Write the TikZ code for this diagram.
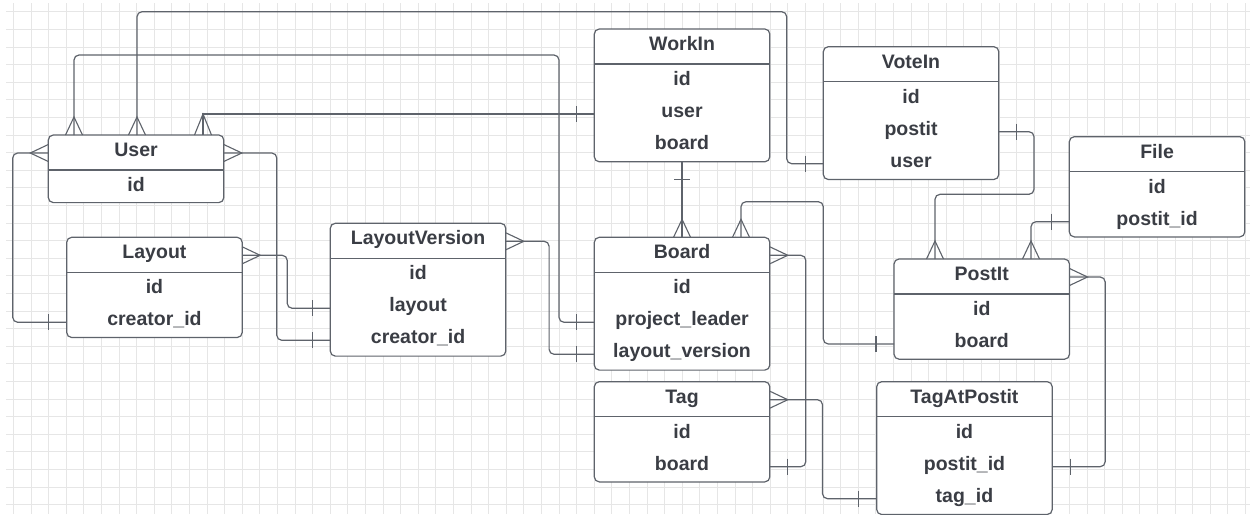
\documentclass[tikz,border=0pt]{standalone}
\usepackage{fontspec}
\setmainfont{Liberation Sans}
\usetikzlibrary{calc}
\definecolor{gridc}{HTML}{E6E6E6}
\definecolor{linec}{HTML}{5E636B}
\definecolor{txtc}{HTML}{3A3D44}
\tikzset{
  ebox/.style={draw=linec, line width=1.2pt, fill=white, rounded corners=5pt, minimum width=175.5pt, anchor=north west, inner sep=0pt, outer sep=0pt},
  ediv/.style={draw=linec, line width=1.2pt},
  etxt/.style={text=txtc, font=\bfseries\fontsize{19.5}{20}\selectfont, anchor=base, inner sep=0pt},
  conn/.style={draw=linec, line width=1.2pt, rounded corners=5pt},
  cmark/.style={draw=linec, line width=1.1pt, sharp corners},
  gridline/.style={draw=gridc, line width=0.8pt}
}
\newcommand\entity[6]{%
  \node[ebox, minimum height={35pt+#4*32.6pt}] (#1) at (#2,#3) {};
  \draw[ediv] ($(#1.north west)+(0,35)$) -- ($(#1.north east)+(0,35)$);
  \coordinate (#1-t) at ($(#1.north)+(0,18)$);
  \node[etxt] (#1-tt) at ($(#1-t)+(0,3.5)$) {#5};
  \foreach \ekey/\etext [count=\ei] in {#6} {
    \coordinate (#1-\ekey) at ($(#1.north)+(0,35+18+32*\ei-32)$);
    \node[etxt] (#1-\ekey-tx) at ($(#1-\ekey)+(0,3.5)$) {\etext};
  }
}
\newcommand\crowN[1]{\draw[cmark] ($(#1)+(-8.5,0)$) -- ($(#1)+(0,-18)$) -- ($(#1)+(8.5,0)$);}
\newcommand\crowE[1]{\draw[cmark] ($(#1)+(0,-8.5)$) -- ($(#1)+(18,0)$) -- ($(#1)+(0,8.5)$);}
\newcommand\crowW[1]{\draw[cmark] ($(#1)+(0,-8.5)$) -- ($(#1)+(-18,0)$) -- ($(#1)+(0,8.5)$);}
\newcommand\barW[1]{\draw[cmark] ($(#1)+(-18,-8)$) -- ($(#1)+(-18,8)$);}
\newcommand\barE[1]{\draw[cmark] ($(#1)+(18,-8)$) -- ($(#1)+(18,8)$);}
\newcommand\barS[1]{\draw[cmark] ($(#1)+(-8,18)$) -- ($(#1)+(8,18)$);}
\begin{document}
\begin{tikzpicture}[x=1pt, y=-1pt]
\useasboundingbox[fill=white] (0,0) rectangle (1250,514);
% grid
\foreach \gx in {0,...,70} \draw[gridline] (13.3+17.6*\gx,3) -- (13.3+17.6*\gx,514);
\foreach \gy in {0,...,28} \draw[gridline] (6,11.7+17.6*\gy) -- (1250,11.7+17.6*\gy);
% entities
\entity{User}{48.3}{135}{1}{User}{id/id}
\entity{Layout}{66.7}{237.3}{2}{Layout}{id/id,cr/creator\_id}
\entity{LV}{330.3}{223.3}{3}{LayoutVersion}{id/id,ly/layout,cr/creator\_id}
\entity{WorkIn}{594.3}{29}{3}{WorkIn}{id/id,us/user,bd/board}
\entity{VoteIn}{823.3}{46.7}{3}{VoteIn}{id/id,pi/postit,us/user}
\entity{File}{1069.3}{136.7}{2}{File}{id/id,pi/postit\_id}
\entity{Board}{594.3}{237.3}{3}{Board}{id/id,pl/project\_leader,lv/layout\_version}
\entity{Tag}{594.3}{381.7}{2}{Tag}{id/id,bd/board}
\entity{PostIt}{894}{259}{2}{PostIt}{id/id,bd/board}
\entity{TAP}{876.7}{381.7}{3}{TagAtPostit}{id/id,pi/postit\_id,tg/tag\_id}
% connector end points
\coordinate (a1) at (User-t -| User.west);
\coordinate (b1) at (Layout-cr -| Layout.west);
\coordinate (a2) at (User-t -| User.east);
\coordinate (b2) at (LV-cr -| LV.west);
\coordinate (a3) at (Layout-t -| Layout.east);
\coordinate (b3) at (LV-ly -| LV.west);
\coordinate (a4) at (LV-t -| LV.east);
\coordinate (b4) at (Board-lv -| Board.west);
\coordinate (a5) at ($(User.north west)+(25.7,0)$);
\coordinate (b5) at (Board-pl -| Board.west);
\coordinate (a6) at ($(User.north west)+(88.7,0)$);
\coordinate (b6) at (VoteIn-us -| VoteIn.west);
\coordinate (a7) at ($(User.north west)+(154.7,0)$);
\coordinate (b7) at (WorkIn-us -| WorkIn.west);
\coordinate (a9) at ($(Board.north west)+(146.7,0)$);
\coordinate (b9) at (PostIt-bd -| PostIt.west);
\coordinate (a10) at (Board-t -| Board.east);
\coordinate (b10) at (Tag-bd -| Tag.east);
\coordinate (a11) at (Tag-t -| Tag.east);
\coordinate (b11) at (TAP-tg -| TAP.west);
\coordinate (a12) at (PostIt-t -| PostIt.east);
\coordinate (b12) at (TAP-pi -| TAP.east);
\coordinate (a13) at (VoteIn-pi -| VoteIn.east);
\coordinate (b13) at ($(PostIt.north west)+(41,0)$);
\coordinate (a14) at (File-pi -| File.west);
\coordinate (b14) at ($(PostIt.north west)+(137,0)$);
% connectors
\draw[conn] (a1) -- ++(-35.6,0) |- (b1);
\crowW{a1} \barW{b1}
\draw[conn] (a2) -- ++(53,0) |- (b2);
\crowE{a2} \barW{b2}
\draw[conn] (a3) -- ++(45,0) |- (b3);
\crowE{a3} \barW{b3}
\draw[conn] (a4) -- ++(43.3,0) |- (b4);
\crowE{a4} \barW{b4}
\draw[conn] (a5) |- (559,55) |- (b5);
\crowN{a5} \barW{b5}
\draw[conn] (a6) |- (786.7,11.7) |- (b6);
\crowN{a6} \barW{b6}
\draw[conn, sharp corners] (a7) |- (b7);
\draw[cmark] ($(a7)+(-8.5,0)$) -- (a7 |- b7) -- ($(a7)+(8.5,0)$);
\barW{b7}
\draw[conn] (WorkIn.south) -- (Board.north);
\barS{WorkIn.south} \crowN{Board.north}
\draw[conn] (a9) |- (823.3,201.7) |- (b9);
\crowN{a9} \barW{b9}
\draw[conn] (a10) -- ++(36,0) |- (b10);
\crowE{a10} \barE{b10}
\draw[conn] (a11) -- ++(52.7,0) |- (b11);
\crowE{a11} \barW{b11}
\draw[conn] (a12) -- ++(35.7,0) |- (b12);
\crowE{a12} \barE{b12}
\draw[conn] (a13) -| (1034,194.3) -| (b13);
\barE{a13} \crowN{b13}
\draw[conn] (a14) -| (b14);
\barW{a14} \crowN{b14}
\end{tikzpicture}
\end{document}
